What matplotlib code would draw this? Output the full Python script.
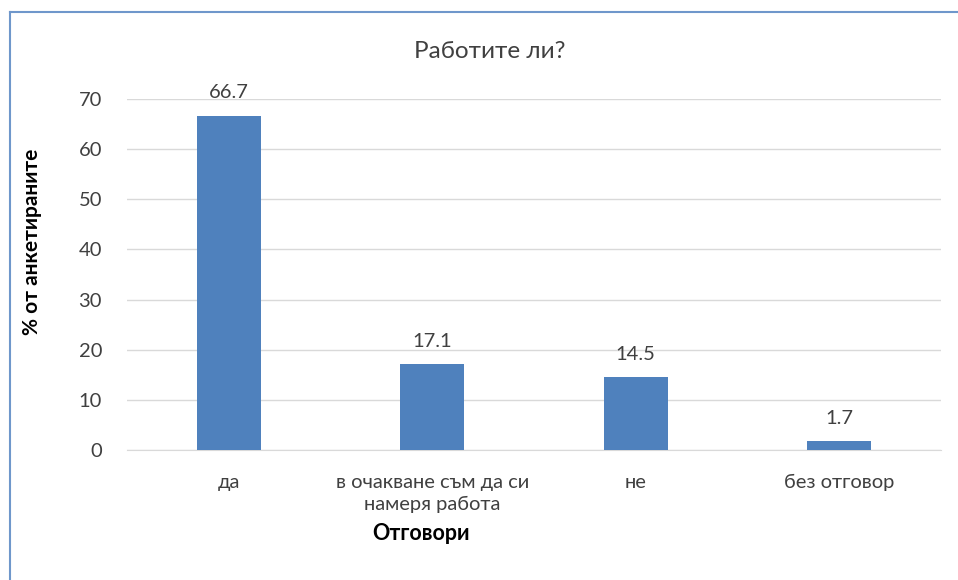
import matplotlib.pyplot as plt
from matplotlib.lines import Line2D

plt.rcParams['font.family'] = ['Lato', 'DejaVu Sans']

# данни
categories = ['да', 'в очакване съм да си\nнамеря работа', 'не', 'без отговор']
values = [66.7, 17.1, 14.5, 1.7]
yticks = [0, 10, 20, 30, 40, 50, 60, 70]

fig = plt.figure(figsize=(9.58, 5.8), dpi=100)
ax = fig.add_axes([127 / 958, 1 - 450 / 580, 814 / 958, 351 / 580])

x = range(len(categories))
bars = ax.bar(x, values, width=0.315, color='#4F81BD', zorder=3)
for b, v in zip(bars, values):
    ax.text(b.get_x() + b.get_width() / 2, v + 2.9, f'{v:.1f}',
            ha='center', va='bottom', fontsize=14.5, color='#404040')

ax.set_xlim(-0.5, len(categories) - 0.5)
ax.set_ylim(0, 70)
ax.set_yticks(yticks)
ax.set_xticks(list(x))
ax.set_xticklabels(categories, fontsize=14.5, color='#404040', linespacing=1.35)
ax.tick_params(axis='y', labelsize=14.5, labelcolor='#404040', length=0, pad=18)
ax.tick_params(axis='x', length=0, pad=17)
ax.grid(axis='y', color='#D9D9D9', linewidth=1, zorder=0)
for s in ['top', 'right', 'left']:
    ax.spines[s].set_visible(False)
ax.spines['bottom'].set_color('#D9D9D9')

fig.text(490 / 958, 1 - 52 / 580, 'Работите ли?', ha='center', va='center',
         fontsize=17.5, color='#404040')
fig.text(32 / 958, 1 - 242 / 580, '% от анкетираните', rotation=90,
         ha='center', va='center', fontsize=15, fontweight='bold', color='black')
fig.text(421 / 958, 1 - 533 / 580, 'Отговори', ha='center', va='center',
         fontsize=15.5, fontweight='bold', color='black')

# рамка
fig.add_artist(Line2D([10 / 958, 1], [1 - 12 / 580, 1 - 12 / 580],
                      transform=fig.transFigure, color='#6F97CB', linewidth=1.5))
fig.add_artist(Line2D([10 / 958, 10 / 958], [0, 1 - 12 / 580],
                      transform=fig.transFigure, color='#6F97CB', linewidth=1.5))

fig.savefig('out.png', dpi=100)
